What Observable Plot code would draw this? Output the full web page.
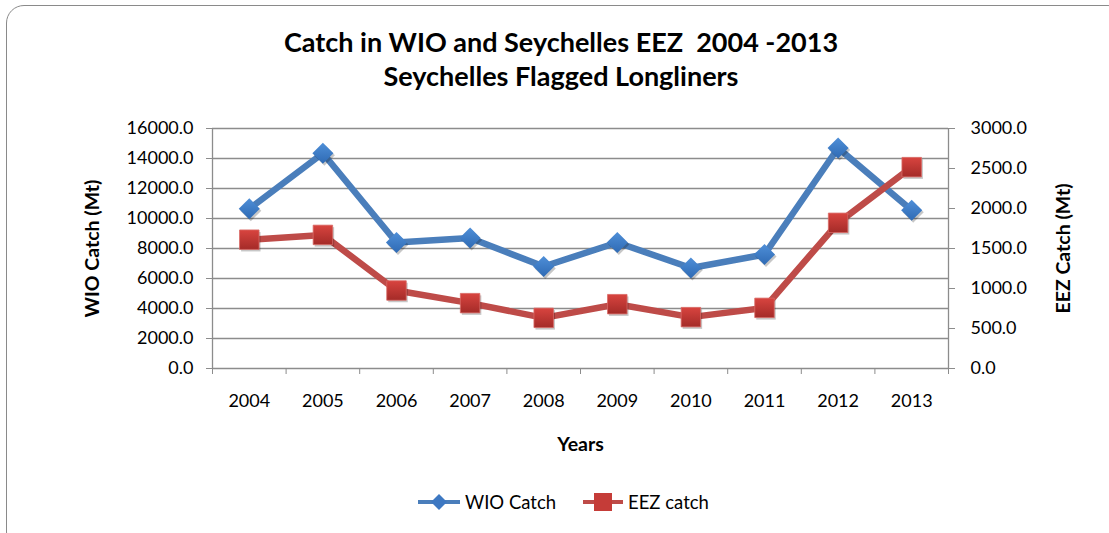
<!DOCTYPE html>
<html>
<head>
<meta charset="utf-8">
<script src="https://cdn.jsdelivr.net/npm/d3@7"></script>
<script src="https://cdn.jsdelivr.net/npm/@observablehq/plot@0.6"></script>
<style>
  html, body { margin: 0; padding: 0; background: #fff; }
  #wrap { position: relative; width: 1109px; height: 533px; overflow: hidden; font-family: Lato, "Open Sans", sans-serif; color: #000; }
  #frame { position: absolute; left: 6px; top: 5px; width: 1120px; height: 545px; border: 1.6px solid #8a8a8a; border-radius: 18px; box-sizing: border-box; }
  .title { position: absolute; left: 0; width: 1122px; text-align: center; font-weight: bold; font-size: 27px; line-height: 32px; }
  #chart { position: absolute; left: 0; top: 0; }
  .leg { position: absolute; top: 490px; height: 24px; display: flex; align-items: center; font-size: 18.5px; }
  .leg span { margin-left: 4px; }
</style>
</head>
<body>
<div id="wrap">
  <div id="frame"></div>
  <div id="chart"></div>
  <div class="title" style="top:26px">Catch in WIO and Seychelles EEZ&nbsp;&nbsp;2004 -2013</div>
  <div class="title" style="top:60px">Seychelles Flagged Longliners</div>
  <div class="leg" style="left:417px">
    <svg width="44" height="24"><line x1="1" y1="12" x2="43" y2="12" stroke="#4a7ebb" stroke-width="4"/><path d="M22,4 L30,12 L22,20 L14,12 Z" fill="#3d78c2"/></svg>
    <span>WIO Catch</span>
  </div>
  <div class="leg" style="left:582px">
    <svg width="42" height="24"><line x1="1" y1="12" x2="41" y2="12" stroke="#be4b48" stroke-width="4"/><rect x="12" y="3" width="18" height="18" fill="#c53c38"/></svg>
    <span>EEZ catch</span>
  </div>
</div>
<script>
const years = [2004, 2005, 2006, 2007, 2008, 2009, 2010, 2011, 2012, 2013];
const wioCatch = [10650, 14350, 8400, 8700, 6800, 8400, 6700, 7600, 14700, 10550];
const eezCatch = [1610, 1670, 975, 817, 633, 804, 642, 758, 1821, 2517];
const wioTicks = [0, 2000, 4000, 6000, 8000, 10000, 12000, 14000, 16000];
const eezTicks = [0, 500, 1000, 1500, 2000, 2500, 3000];

const wioMax = wioTicks[wioTicks.length - 1];
const eezMax = eezTicks[eezTicks.length - 1];
const ratio = wioMax / eezMax;

const data = years.map((year, i) => ({year, wio: wioCatch[i], eez: eezCatch[i]}));
const bounds = years.map(y => y - 0.5).concat([years[years.length - 1] + 0.5]);
const xDomain = [bounds[0], bounds[bounds.length - 1]];

const gray = "#8c8c8c";
const fontSize = 18;
const titleSize = 19.5;

const plot = Plot.plot({
  width: 1109,
  height: 533,
  marginLeft: 212,
  marginRight: 161,
  marginTop: 128,
  marginBottom: 165,
  style: {fontFamily: "Lato, 'Open Sans', sans-serif", background: "transparent"},
  x: {domain: xDomain},
  y: {domain: [0, wioMax]},
  marks: [
    Plot.gridY(wioTicks, {stroke: gray, strokeOpacity: 1, strokeWidth: 1.3}),
    Plot.ruleX(xDomain, {stroke: gray, strokeWidth: 1.3}),
    Plot.axisY(wioTicks, {anchor: "left", tickSize: 6, tickPadding: 13, stroke: gray, fill: "#000", fontSize, tickFormat: d => d.toFixed(1), label: null}),
    Plot.axisY(eezTicks.map(v => v * ratio), {anchor: "right", tickSize: 6, tickPadding: 16, stroke: gray, fill: "#000", fontSize, tickFormat: d => (d / ratio).toFixed(1), label: null}),
    Plot.axisX(bounds, {anchor: "bottom", tickSize: 6, stroke: gray, tickFormat: () => "", label: null}),
    Plot.axisX(years, {anchor: "bottom", tickSize: 0, tickPadding: 26, fill: "#000", fontSize, tickFormat: d => String(d), label: null}),
    Plot.text(["WIO Catch (Mt)"], {frameAnchor: "left", textAnchor: "middle", dx: -120, rotate: -90, fontSize: titleSize, fontWeight: "bold", fill: "#000"}),
    Plot.text(["EEZ Catch (Mt)"], {frameAnchor: "right", textAnchor: "middle", dx: 115, rotate: -90, fontSize: titleSize, fontWeight: "bold", fill: "#000"}),
    Plot.text(["Years"], {frameAnchor: "bottom", textAnchor: "middle", dy: 82, fontSize: titleSize, fontWeight: "bold", fill: "#000"}),
    Plot.line(data, {x: "year", y: "wio", stroke: "#4a7ebb", strokeWidth: 6.5}),
    Plot.line(data, {x: "year", y: d => d.eez * ratio, stroke: "#be4b48", strokeWidth: 6.5}),
    Plot.dot(data, {x: "year", y: "wio", symbol: "diamond2", r: 9.5, fill: "#000", fillOpacity: 0.22, dx: 1.5, dy: 2}),
    Plot.dot(data, {x: "year", y: "wio", symbol: "diamond2", r: 9.5, fill: "url(#gBlue)", stroke: "none"}),
    Plot.dot(data, {x: "year", y: d => d.eez * ratio, symbol: "square", r: 11, fill: "#000", fillOpacity: 0.22, dx: 1.5, dy: 2}),
    Plot.dot(data, {x: "year", y: d => d.eez * ratio, symbol: "square", r: 11, fill: "url(#gRed)", stroke: "#d96a66", strokeWidth: 0.8})
  ]
});

d3.select(plot).insert("defs", ":first-child").html(`
  <linearGradient id="gBlue" x1="0" y1="0" x2="0" y2="1">
    <stop offset="0" stop-color="#4f8fd8"/>
    <stop offset="1" stop-color="#2e6ab4"/>
  </linearGradient>
  <linearGradient id="gRed" x1="0" y1="0" x2="0" y2="1">
    <stop offset="0" stop-color="#d8443f"/>
    <stop offset="1" stop-color="#a42b28"/>
  </linearGradient>`);

document.getElementById("chart").appendChild(plot);
</script>
</body>
</html>
